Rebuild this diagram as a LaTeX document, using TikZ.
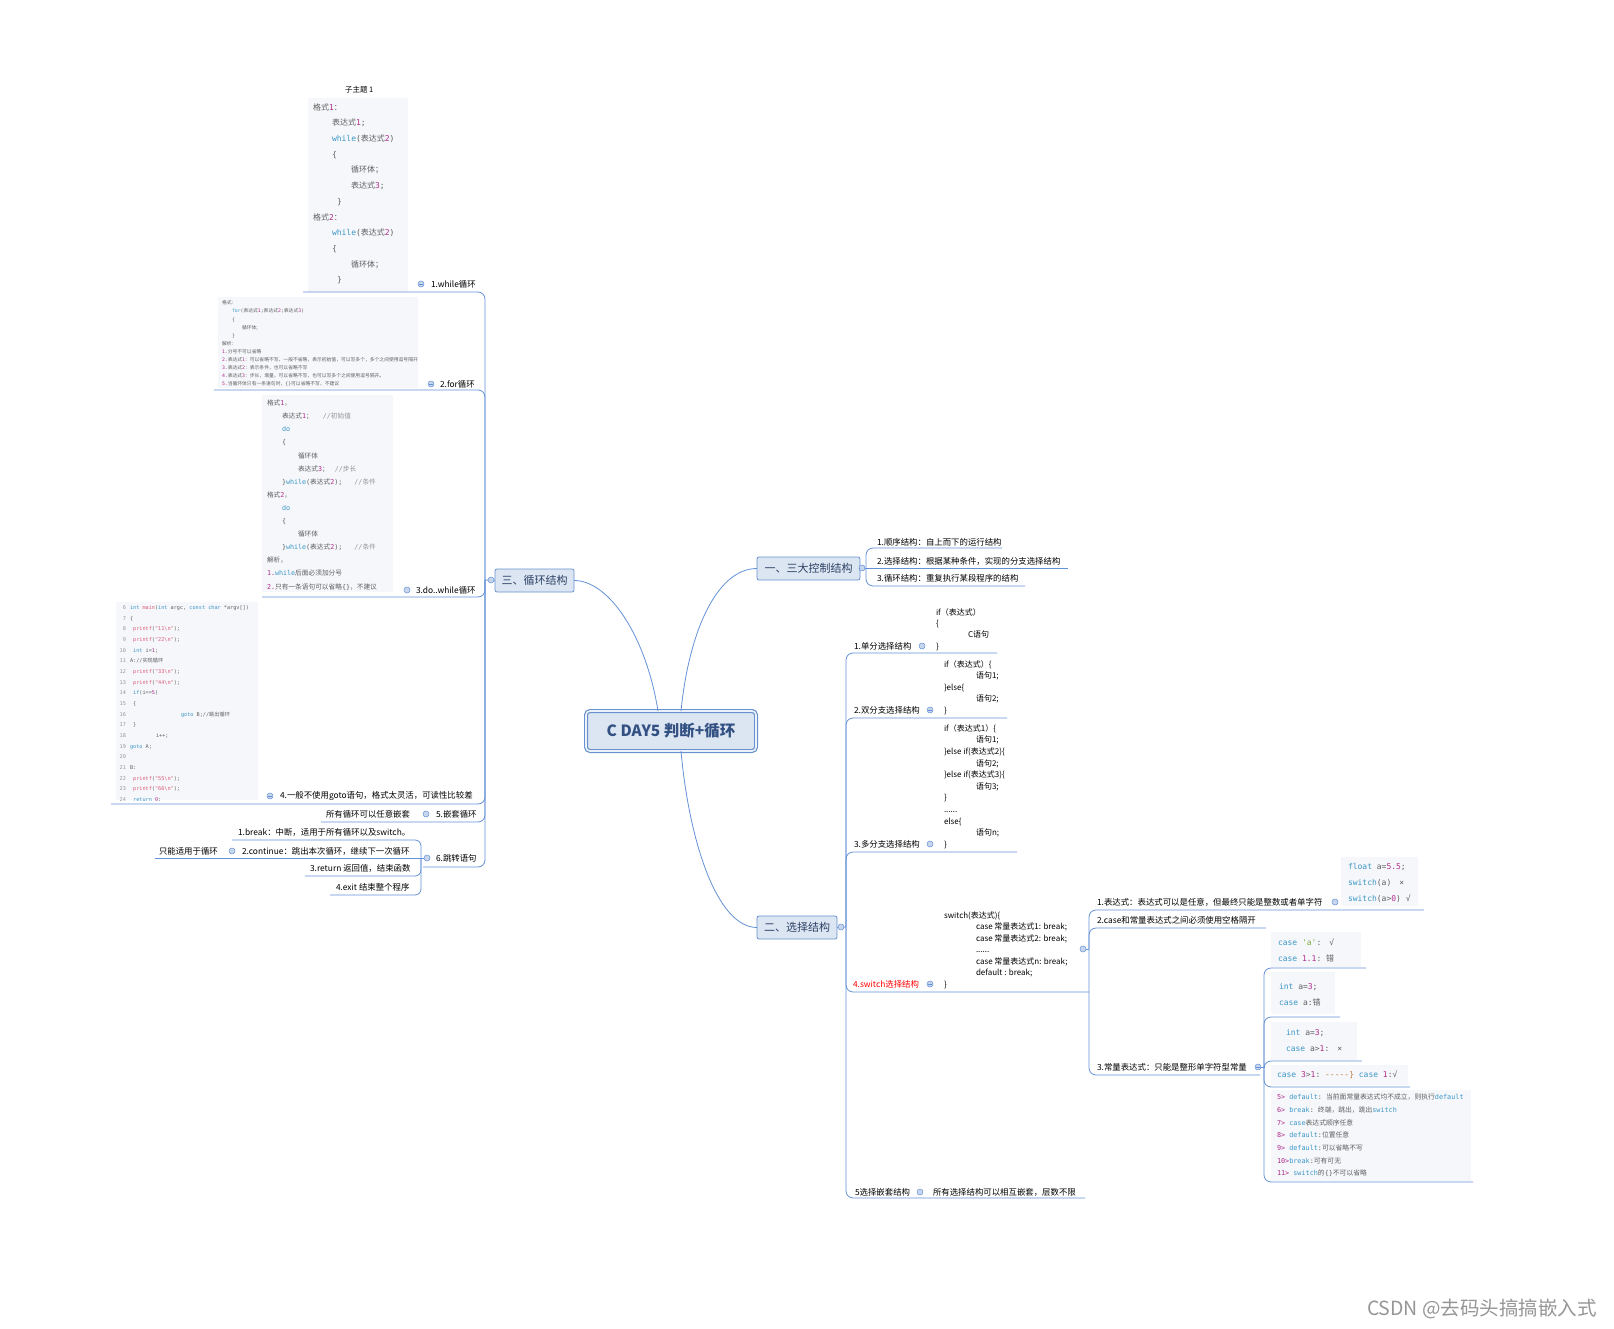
\documentclass[tikz,border=0pt]{standalone}
\usepackage{fontspec}
\setmainfont{Noto Sans CJK SC}
\setmonofont{DejaVu Sans Mono}
\newfontfamily\cjk{Noto Sans CJK SC}

\definecolor{linkblue}{RGB}{100,145,215}
\definecolor{topicfill}{RGB}{220,230,243}
\definecolor{topicline}{RGB}{105,145,205}
\definecolor{topictext}{RGB}{45,65,100}
\definecolor{roottext}{RGB}{50,80,130}
\definecolor{rootgap}{RGB}{236,242,250}
\definecolor{dotfill}{RGB}{200,214,236}
\definecolor{codebg}{RGB}{245,247,250}
\definecolor{codetxt}{RGB}{95,95,95}
\definecolor{kwblue}{RGB}{60,150,200}
\definecolor{nummag}{RGB}{175,45,140}
\definecolor{fnpink}{RGB}{220,90,120}
\definecolor{strgreen}{RGB}{120,170,60}
\definecolor{cmtgray}{RGB}{150,150,150}
\definecolor{arrowbrown}{RGB}{190,120,60}
\definecolor{markgray}{RGB}{150,150,150}

\newcommand\zh[1]{{\cjk #1}}
\newcommand\kw[1]{\textcolor{kwblue}{#1}}
\newcommand\nm[1]{\textcolor{nummag}{#1}}
\newcommand\fn[1]{\textcolor{fnpink}{#1}}
\newcommand\cm[1]{\textcolor{cmtgray}{#1}}
\newcommand\lnum[1]{\makebox[7pt][r]{\textcolor{cmtgray}{#1}}\hspace*{4pt}}

\tikzset{
  every node/.style={inner sep=0pt, outer sep=0pt},
  lbl/.style={anchor=west, font=\fontsize{8.4}{10}\selectfont},
  topic/.style={draw=topicline, fill=topicfill, rounded corners=2pt, line width=0.8pt,
    text=topictext, font=\fontsize{11}{13}\selectfont, minimum height=23pt},
  rootbox/.style={draw=topicline, line width=1.2pt, double=rootgap, double distance=1.6pt,
    fill=topicfill, rounded corners=4pt, minimum width=170pt, minimum height=40pt,
    text=roottext, font=\fontsize{15.5}{18}\selectfont\bfseries},
  link/.style={draw=linkblue, line width=0.8pt},
  dot/.style={circle, draw=linkblue, fill=dotfill, line width=0.5pt, minimum size=6pt},
  fold/.style={dot, path picture={\draw[linkblue, line width=0.5pt]
    ([xshift=1.4pt]path picture bounding box.west) -- ([xshift=-1.4pt]path picture bounding box.east);}},
  code/.style={anchor=north west, align=left, text=codetxt},
  sel/.style={anchor=north west, align=left, text=black}
}

\begin{document}
\begin{tikzpicture}[x=1pt, y=-1pt]
\useasboundingbox (0,0) rectangle (1614,1329);
\fill[white] (0,0) rectangle (1614,1329);

% code backgrounds
\fill[codebg] (308,98) rectangle (408,292);
\fill[codebg] (218,297) rectangle (418,388);
\fill[codebg] (262,395) rectangle (393,592);
\fill[codebg] (1341,857) rectangle (1418,906);
\fill[codebg] (1271,932) rectangle (1361,967);
\fill[codebg] (1271,972) rectangle (1335,1014);
\fill[codebg] (1271,1022) rectangle (1357,1060);
\fill[codebg] (1271,1065) rectangle (1408,1085);
\fill[codebg] (1271,1090) rectangle (1471,1181);

% main topics
\node[rootbox] (root) at (671,731) {C DAY5 判断+循环};
\node[topic, minimum width=103pt] (three) at (808.5,568.5) {一、三大控制结构};
\node[topic, minimum width=79pt] (loop) at (534.5,580.5) {三、循环结构};
\node[topic, minimum width=80pt] (sel) at (797,927.5) {二、选择结构};

\draw[link] ([xshift=10pt]root.north) .. controls +(8,-80) and +(-40,0) .. (three.west);
\draw[link] ([xshift=-13pt]root.north) .. controls +(-12,-75) and +(35,0) .. (loop.east);
\draw[link] ([xshift=10pt]root.south) .. controls +(8,90) and +(-40,0) .. (sel.west);

% ---- loop branch ----
\coordinate (loopjoin) at (485,580);
\coordinate (whileL) at (303,292);
\coordinate (forL) at (214,390);
\coordinate (dowL) at (262,597);
\coordinate (gotoL) at (111,804);
\coordinate (nestL) at (321,822);
\coordinate (jumpL) at (423,867);
\draw[link] (loop.west) -- (loopjoin);
\foreach \c in {while,for,dow,goto,nest,jump}
  \draw[link, rounded corners=7pt] (loopjoin) |- (\c L);

\node[anchor=west, font=\fontsize{7.5}{9}\selectfont] (subtitle) at (345,90) {子主题 1};
\node[code, font=\fontsize{8}{15.7}\selectfont\ttfamily] (whilecode) at (313,103.4) {%
\zh{格式}\nm{1}\zh{：}\\
\hspace*{19pt}\zh{表达式}\nm{1};\\
\hspace*{19pt}\kw{while}(\zh{表达式}\nm{2})\\
\hspace*{19pt}\{\\
\hspace*{38pt}\zh{循环体；}\\
\hspace*{38pt}\zh{表达式}\nm{3};\\
\hspace*{24pt}\}\\
\zh{格式}\nm{2}\zh{：}\\
\hspace*{19pt}\kw{while}(\zh{表达式}\nm{2})\\
\hspace*{19pt}\{\\
\hspace*{38pt}\zh{循环体；}\\
\hspace*{24pt}\}};
\node[lbl] (whilelbl) at (431,284) {1.while循环};

\node[code, font=\fontsize{4.8}{8.1}\selectfont\ttfamily] (forcode) at (222,300.8) {%
\zh{格式：}\\
\hspace*{10pt}\kw{for}(\zh{表达式}\nm{1};\zh{表达式}\nm{2};\zh{表达式}\nm{3})\\
\hspace*{10pt}\{\\
\hspace*{20pt}\zh{循环体;}\\
\hspace*{10pt}\}\\
\zh{解析：}\\
\nm{1.}\zh{分号不可以省略}\\
\nm{2.}\zh{表达式}\nm{1}\zh{：可以省略不写，一般不省略，表示初始值，可以写多个，多个之间使用逗号隔开}\\
\nm{3.}\zh{表达式}\nm{2}\zh{：表示条件，也可以省略不写}\\
\nm{4.}\zh{表达式}\nm{3}\zh{：步长，增量，可以省略不写，也可以写多个之间使用逗号隔开。}\\
\nm{5.}\zh{当循环体只有一条语句时，}\{\}\zh{可以省略不写，不建议}};
\node[lbl] (forlbl) at (440,384) {2.for循环};

\node[code, font=\fontsize{6.7}{13.1}\selectfont\ttfamily] (dowcode) at (267,400) {%
\zh{格式}\nm{1}\zh{，}\\
\hspace*{15pt}\zh{表达式}\nm{1}\zh{；}\hspace*{10pt}\cm{//\zh{初始值}}\\
\hspace*{15pt}\kw{do}\\
\hspace*{15pt}\{\\
\hspace*{31pt}\zh{循环体}\\
\hspace*{31pt}\zh{表达式}\nm{3}\zh{；}\hspace*{6pt}\cm{//\zh{步长}}\\
\hspace*{15pt}\}\kw{while}(\zh{表达式}\nm{2});\hspace*{12pt}\cm{//\zh{条件}}\\
\zh{格式}\nm{2}\zh{，}\\
\hspace*{15pt}\kw{do}\\
\hspace*{15pt}\{\\
\hspace*{31pt}\zh{循环体}\\
\hspace*{15pt}\}\kw{while}(\zh{表达式}\nm{2});\hspace*{12pt}\cm{//\zh{条件}}\\
\zh{解析，}\\
\nm{1.}\kw{while}\zh{后面必须加分号}\\
\nm{2.}\zh{只有一条语句可以省略}\{\}\zh{，不建议}};
\node[lbl] (dowlbl) at (416,590) {3.do..while循环};

\begin{scope}
\clip (116,602) rectangle (258,800);
\fill[codebg] (116,602) rectangle (258,800);
\node[code, font=\fontsize{5.2}{10.67}\selectfont\ttfamily] (gotocode) at (119,605.5) {%
\lnum{6}\kw{int} \fn{main}(\kw{int} argc, \kw{const} \kw{char} *argv[])\\
\lnum{7}\{\\
\lnum{8} \fn{printf}(\fn{"11\textbackslash n"});\\
\lnum{9} \fn{printf}(\fn{"22\textbackslash n"});\\
\lnum{10} \kw{int} i=\nm{1};\\
\lnum{11}A://\zh{实现循环}\\
\lnum{12} \fn{printf}(\fn{"33\textbackslash n"});\\
\lnum{13} \fn{printf}(\fn{"44\textbackslash n"});\\
\lnum{14} \kw{if}(i==\nm{5})\\
\lnum{15} \{\\
\lnum{16}\hspace*{51pt}\kw{goto} B;//\zh{跳出循环}\\
\lnum{17} \}\\
\lnum{18}\hspace*{26pt}i++;\\
\lnum{19}\kw{goto} A;\\
\lnum{20}\\
\lnum{21}B:\\
\lnum{22} \fn{printf}(\fn{"55\textbackslash n"});\\
\lnum{23} \fn{printf}(\fn{"66\textbackslash n"});\\
\lnum{24} \kw{return} \nm{0};};
\end{scope}
\node[lbl] (gotolbl) at (280,796) {4.一般不使用goto语句，格式太灵活，可读性比较差};

\node[lbl] (nestnote) at (326,814) {所有循环可以任意嵌套};
\node[lbl] (nestlbl) at (436,814) {5.嵌套循环};
\node[lbl] (jumplbl) at (436,858) {6.跳转语句};

% jump statements
\coordinate (jumpjoin) at (421,858);
\coordinate (brkL) at (232,840);
\coordinate (contL) at (155,858);
\coordinate (retL) at (305,876);
\coordinate (exitL) at (330,895);
\node[dot] (jumpdot) at (427,858) {};
\draw[link] (jumpdot) -- (jumpjoin);
\draw[link] (jumpjoin) -- (contL);
\foreach \c in {brk,ret,exit}
  \draw[link, rounded corners=6pt] (jumpjoin) |- (\c L);
\node[lbl] (brklbl) at (238,832) {1.break：中断，适用于所有循环以及switch。};
\node[lbl] (contlbl) at (242,851) {2.continue：跳出本次循环，继续下一次循环};
\node[lbl] (contnote) at (159,851) {只能适用于循环};
\node[lbl] (retlbl) at (310,868) {3.return 返回值，结束函数};
\node[lbl] (exitlbl) at (336,887) {4.exit 结束整个程序};

% ---- three structures ----
\coordinate (threejoin) at (866,568);
\coordinate (seqR) at (1002,548);
\coordinate (choR) at (1068,568);
\coordinate (cycR) at (1025,586);
\node[dot] (threedot) at (862,568) {};
\draw[link] (three.east) -- (threedot);
\draw[link] (threedot) -- (choR);
\draw[link, rounded corners=7pt] (threejoin) |- (seqR);
\draw[link, rounded corners=7pt] (threejoin) |- (cycR);
\node[lbl] (seqlbl) at (877,542) {1.顺序结构：自上而下的运行结构};
\node[lbl] (cholbl) at (877,561) {2.选择结构：根据某种条件，实现的分支选择结构};
\node[lbl] (cyclbl) at (877,578) {3.循环结构：重复执行某段程序的结构};

% ---- selection branch ----
\coordinate (seljoin) at (846,927);
\coordinate (oneR) at (997,653);
\coordinate (twoR) at (1007,718);
\coordinate (multiR) at (1017,852);
\coordinate (swR) at (1089,992);
\coordinate (nestselR) at (1085,1198);
\draw[link] (sel.east) -- (seljoin);
\foreach \c in {one,two,multi,sw,nestsel}
  \draw[link, rounded corners=7pt] (seljoin) |- (\c R);

\node[lbl] (onelbl) at (854,646) {1.单分选择结构};
\node[sel, font=\fontsize{8}{11.3}\selectfont] (onecode) at (936,608.4) {%
if（表达式）\\
\{\\
\hspace*{32pt}C语句\\
\}};
\node[lbl] (twolbl) at (854,710) {2.双分支选择结构};
\node[sel, font=\fontsize{8}{11.5}\selectfont] (twocode) at (944,660.4) {%
if（表达式）\{\\
\hspace*{32pt}语句1;\\
\}else\{\\
\hspace*{32pt}语句2;\\
\}};
\node[lbl] (multilbl) at (854,844) {3.多分支选择结构};
\node[sel, font=\fontsize{8}{11.6}\selectfont] (multicode) at (944,724.4) {%
if（表达式1）\{\\
\hspace*{32pt}语句1;\\
\}else if(表达式2)\{\\
\hspace*{32pt}语句2;\\
\}else if(表达式3)\{\\
\hspace*{32pt}语句3;\\
\}\\
......\\
else\{\\
\hspace*{32pt}语句n;\\
\}};
\node[lbl, text=red] (swlbl) at (853,984) {4.switch选择结构};
\node[sel, font=\fontsize{8}{11.5}\selectfont] (swcode) at (944,911.4) {%
switch(表达式)\{\\
\hspace*{32pt}case 常量表达式1: break;\\
\hspace*{32pt}case 常量表达式2: break;\\
\hspace*{32pt}......\\
\hspace*{32pt}case 常量表达式n: break;\\
\hspace*{32pt}default : break;\\
\}};
\node[lbl] (nestsellbl) at (855,1192) {5选择嵌套结构};
\node[lbl] (nestselnote) at (933,1192) {所有选择结构可以相互嵌套，层数不限};

% switch rules
\coordinate (swjoin) at (1089,949);
\coordinate (exprR) at (1424,910);
\coordinate (spaceR) at (1266,928);
\coordinate (constR) at (1260,1075);
\node[dot] (swdot) at (1083,949) {};
\draw[link] (swdot) -- (swjoin);
\foreach \c in {expr,space,const}
  \draw[link, rounded corners=7pt] (swjoin) |- (\c R);
\node[lbl] (exprlbl) at (1097,902) {1.表达式：表达式可以是任意，但最终只能是整数或者单字符};
\node[lbl] (spacelbl) at (1097,920) {2.case和常量表达式之间必须使用空格隔开};
\node[lbl] (constlbl) at (1097,1067) {3.常量表达式：只能是整形单字符型常量};
\node[code, font=\fontsize{8}{16}\selectfont\ttfamily] (floatcode) at (1348,863.4) {%
\kw{float} a=\nm{5.5};\\
\kw{switch}(a)\hspace*{8pt}×\\
\kw{switch}(a>\nm{0}) √};

% constant cases
\coordinate (constjoin) at (1264,1067);
\coordinate (caseaR) at (1366,968);
\coordinate (casebR) at (1340,1017);
\coordinate (casecR) at (1362,1061);
\coordinate (casedR) at (1410,1087);
\coordinate (caseeR) at (1473,1182);
\node[fold] (constdot) at (1258,1067) {};
\draw[link] (constdot) -- (constjoin);
\foreach \c in {casea,caseb,casec,cased,casee}
  \draw[link, rounded corners=7pt] (constjoin) |- (\c R);
\node[code, font=\fontsize{8}{16}\selectfont\ttfamily] (casea) at (1278,938.4) {%
\kw{case} \textcolor{strgreen}{'a'}:\hspace*{8pt}√\\
\kw{case} \nm{1.1}: \zh{错}};
\node[code, font=\fontsize{8}{16}\selectfont\ttfamily] (caseb) at (1279,983.4) {%
\kw{int} a=\nm{3};\\
\kw{case} a:\zh{错}};
\node[code, font=\fontsize{8}{16}\selectfont\ttfamily] (casec) at (1286,1029.4) {%
\kw{int} a=\nm{3};\\
\kw{case} a>\nm{1}:\hspace*{8pt}×};
\node[code, anchor=west, font=\fontsize{8}{16}\selectfont\ttfamily] (cased) at (1277,1075) {%
\kw{case} \nm{3}>\nm{1}: \textcolor{arrowbrown}{-----\}} \kw{case} \nm{1}:√};
\node[code, font=\fontsize{6.8}{12.7}\selectfont\ttfamily] (casee) at (1277,1094) {%
\nm{5>} \kw{default}: \zh{当前面常量表达式均不成立，则执行}\kw{default}\\
\nm{6>} \kw{break}: \zh{终端，跳出，跳出}\kw{switch}\\
\nm{7>} \kw{case}\zh{表达式顺序任意}\\
\nm{8>} \kw{default}:\zh{位置任意}\\
\nm{9>} \kw{default}:\zh{可以省略不写}\\
\nm{10>}\kw{break}:\zh{可有可无}\\
\nm{11>} \kw{switch}\zh{的}\{\}\zh{不可以省略}};

% collapse buttons
\node[dot] (loopdot) at (491,580) {};
\node[fold] (whiledot) at (421,284) {};
\node[fold] (fordot) at (431,384) {};
\node[dot] (dowdot) at (407,590) {};
\node[fold] (gotodot) at (270,796) {};
\node[dot] (nestdot) at (426,814) {};
\node[dot] (contdot) at (232,851) {};
\node[dot] (seldot) at (841,927) {};
\node[dot] (onedot) at (922,646) {};
\node[fold] (twodot) at (930,710) {};
\node[dot] (multidot) at (930,844) {};
\node[fold] (swfold) at (930,984) {};
\node[dot] (exprdot) at (1335,902) {};
\node[dot] (nestseldot) at (920,1192) {};

\node[anchor=west, text=markgray, font=\fontsize{19.5}{22}\selectfont] (mark) at (1367,1309) {CSDN @去码头搞搞嵌入式};
\end{tikzpicture}
\end{document}
